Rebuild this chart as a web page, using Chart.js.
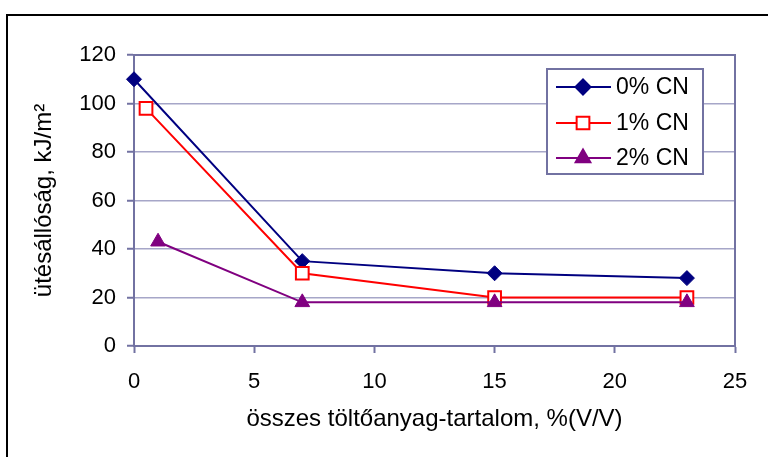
<!DOCTYPE html>
<html>
<head>
<meta charset="utf-8">
<script src="https://cdn.jsdelivr.net/npm/chart.js@4"></script>
<style>
  html, body { margin: 0; padding: 0; background: #fff; }
  #wrap { width: 768px; height: 457px; }
</style>
</head>
<body>
<div id="wrap"><canvas id="chart" width="768" height="457"></canvas></div>
<script>
// data
const seriesNames = ['0% CN', '1% CN', '2% CN'];
const xCN0 = [0, 7, 15, 23];
const yCN0 = [110, 35, 30, 28];
const xCN1 = [0.5, 7, 15, 23];
const yCN1 = [98, 30, 20, 20];
const xCN2 = [1, 7, 15, 23];
const yCN2 = [43, 18, 18, 18];
const xTicks = [0, 5, 10, 15, 20, 25];
const yTicks = [0, 20, 40, 60, 80, 100, 120];

const axisColor = '#7272a2';
const gridColor = '#a6a6c8';
const fontFam = '"Liberation Sans", Arial, sans-serif';

function pts(xs, ys) {
    return xs.map((x, i) => ({ x: x, y: ys[i] }));
}

// frame, plot border, legend box
const decor = {
    id: 'decor',
    afterDraw(chart) {
        const ctx = chart.ctx;
        const a = chart.chartArea;
        ctx.save();
        // outer frame (runs off right / bottom)
        ctx.strokeStyle = '#000';
        ctx.lineWidth = 2;
        ctx.strokeRect(7, 15, 780, 460);
        // top and right border of the plot
        ctx.strokeStyle = axisColor;
        ctx.lineWidth = 2;
        ctx.beginPath();
        ctx.moveTo(a.left, a.top);
        ctx.lineTo(a.right, a.top);
        ctx.lineTo(a.right, a.bottom);
        ctx.stroke();

        // legend
        const lx = 547, ly = 69, lw = 156, lh = 105;
        ctx.fillStyle = '#fff';
        ctx.fillRect(lx, ly, lw, lh);
        ctx.strokeStyle = axisColor;
        ctx.lineWidth = 2;
        ctx.strokeRect(lx, ly, lw, lh);
        const rows = [87, 123, 158];
        chart.data.datasets.forEach((ds, i) => {
            const y = rows[i];
            ctx.strokeStyle = ds.borderColor;
            ctx.lineWidth = 2;
            ctx.beginPath();
            ctx.moveTo(556, y);
            ctx.lineTo(611, y);
            ctx.stroke();
            ctx.fillStyle = ds.pointBackgroundColor;
            ctx.strokeStyle = ds.pointBorderColor;
            Chart.helpers.drawPoint(ctx, {
                pointStyle: ds.pointStyle,
                radius: ds.pointRadius,
                rotation: 0,
                borderWidth: ds.pointBorderWidth
            }, 583, y);
            ctx.fillStyle = '#000';
            ctx.font = '23px ' + fontFam;
            ctx.textBaseline = 'middle';
            ctx.textAlign = 'left';
            ctx.fillText(ds.label, 616, y + 1);
        });
        ctx.restore();
    }
};

new Chart(document.getElementById('chart'), {
    type: 'line',
    data: {
        datasets: [{
            label: seriesNames[0],
            data: pts(xCN0, yCN0),
            order: 3,
            borderColor: '#000080',
            borderWidth: 2,
            pointStyle: 'rectRot',
            pointRadius: 7.5,
            pointBackgroundColor: '#000080',
            pointBorderColor: '#000080',
            pointBorderWidth: 1,
            clip: false
        }, {
            label: seriesNames[1],
            data: pts(xCN1, yCN1),
            order: 2,
            borderColor: '#ff0000',
            borderWidth: 2,
            pointStyle: 'rect',
            pointRadius: 9,
            pointBackgroundColor: '#ffffff',
            pointBorderColor: '#ff0000',
            pointBorderWidth: 2,
            clip: false
        }, {
            label: seriesNames[2],
            data: pts(xCN2, yCN2),
            order: 1,
            borderColor: '#800080',
            borderWidth: 2,
            pointStyle: 'triangle',
            pointRadius: 8.5,
            pointBackgroundColor: '#800080',
            pointBorderColor: '#800080',
            pointBorderWidth: 1,
            clip: false
        }]
    },
    options: {
        responsive: false,
        animation: false,
        layout: { padding: { left: 26, top: 55, right: 33, bottom: 19 } },
        plugins: {
            legend: { display: false },
            tooltip: { enabled: false }
        },
        scales: {
            x: {
                type: 'linear',
                min: 0,
                max: 25,
                afterFit(scale) { scale.height = 92; },
                afterBuildTicks(scale) { scale.ticks = xTicks.map(v => ({ value: v })); },
                border: { color: axisColor, width: 2 },
                grid: { drawOnChartArea: false, drawTicks: true, tickLength: 7, tickColor: axisColor, tickWidth: 2 },
                ticks: { color: '#000', font: { family: fontFam, size: 22 }, padding: 16, maxRotation: 0 },
                title: { display: true, text: 'összes töltőanyag-tartalom, %(V/V)', color: '#000', font: { family: fontFam, size: 24 } }
            },
            y: {
                min: 0,
                max: 120,
                afterFit(scale) { scale.width = 108; },
                afterBuildTicks(scale) { scale.ticks = yTicks.map(v => ({ value: v })); },
                border: { color: axisColor, width: 2 },
                grid: { color: gridColor, lineWidth: 1.5, drawTicks: true, tickLength: 7, tickColor: axisColor, tickWidth: 2 },
                ticks: { color: '#000', font: { family: fontFam, size: 22 }, padding: 11 },
                title: { display: true, text: 'ütésállóság, kJ/m²', color: '#000', font: { family: fontFam, size: 24 } }
            }
        }
    },
    plugins: [decor]
});
</script>
</body>
</html>
